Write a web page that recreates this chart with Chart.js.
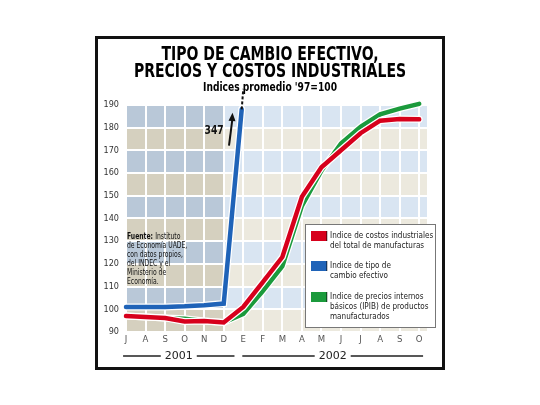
<!DOCTYPE html>
<html>
<head>
<meta charset="utf-8">
<script src="https://cdn.jsdelivr.net/npm/chart.js@4.4.0/dist/chart.umd.min.js"></script>
<style>
  html, body { margin: 0; padding: 0; background: #fff; }
  #wrap { width: 540px; height: 405px; }
</style>
</head>
<body>
<div id="wrap"><canvas id="chart" width="540" height="405"></canvas></div>
<script>
// chart data
const months = ['J', 'A', 'S', 'O', 'N', 'D', 'E', 'F', 'M', 'A', 'M', 'J', 'J', 'A', 'S', 'O'];
const costos = [97, 96.6, 96.2, 94.6, 94.8, 94.2, 101, 112, 123, 149.5, 162.5, 170, 177.5, 183, 183.8, 183.6];
const precios = [97, 96.6, 96.2, 95.8, 94.8, 94.2, 98, 108, 119, 145.5, 161, 173, 180.3, 185.8, 188.3, 190.4];
const cambioX = [0, 1, 2, 3, 4, 5, 5.92];
const cambio = [101, 101, 101, 101.3, 101.8, 102.5, 188];
const cambioOffX = [5.92, 6.0];
const cambioOff = [188, 197];
const cambioPeak = 347;
const yTicks = [90, 100, 110, 120, 130, 140, 150, 160, 170, 180, 190];
const years = ['2001', '2002'];
const yearFrom = [-0.15, 5.95];
const yearTo = [5.55, 15.2];
const darkUntil = 5; // 2001 cells drawn darker

const legendLines = [
  ['Indice de costos industriales', 'del total de manufacturas'],
  ['Indice de tipo de', 'cambio efectivo'],
  ['Indice de precios internos', 'básicos (IPIB) de productos', 'manufacturados']
];
const noteLines = ['Fuente: Instituto', 'de Economía UADE,', 'con datos propios,', 'del INDEC y el', 'Ministerio de', 'Economía.'];

const RED = '#d7001c';
const BLUE = '#1f63b8';
const GREEN = '#1b9a3c';
const NARROW = "'DejaVu Sans Condensed', 'Liberation Sans', sans-serif";
const SQUEEZE = 0.78;

// draw text squeezed horizontally, like the condensed face of the original
function narrowText(ctx, text, x, y, sx) {
  ctx.save();
  ctx.translate(x, y);
  ctx.scale(sx, 1);
  ctx.fillText(text, 0, 0);
  ctx.restore();
  return ctx.measureText(text).width * sx;
}

// squeeze title + subtitle and center them on the page rather than the plot
const narrowTitles = {
  id: 'narrowTitles',
  afterLayout(chart) {
    chart.boxes.forEach(b => {
      if (b._narrowed || !b.options || b.options.text === undefined) return;
      const draw = b.draw.bind(b);
      b.draw = function (area) {
        const ctx = chart.ctx, cx = (b.left + b.right) / 2;
        ctx.save();
        ctx.translate(chart.width / 2, 0);
        ctx.scale(SQUEEZE, 1);
        ctx.translate(-cx, 0);
        draw(area);
        ctx.restore();
      };
      b._narrowed = true;
    });
  }
};

const backdrop = {
  id: 'backdrop',
  beforeDraw(chart) {
    const { ctx, chartArea: a, scales: { x, y } } = chart;
    ctx.save();
    ctx.fillStyle = '#fff';
    ctx.fillRect(0, 0, chart.width, chart.height);
    const split = x.getPixelForValue(darkUntil);
    for (let i = 0; i < yTicks.length - 1; i++) {
      const top = y.getPixelForValue(yTicks[i + 1]);
      const bot = y.getPixelForValue(yTicks[i]);
      const blue = i % 2 === 1;
      ctx.fillStyle = blue ? '#b9c8d8' : '#d5d0bf';
      ctx.fillRect(a.left, top, split - a.left, bot - top);
      ctx.fillStyle = blue ? '#d9e5f2' : '#ece9de';
      ctx.fillRect(split, top, a.right - split, bot - top);
    }
    ctx.strokeStyle = '#111';
    ctx.lineWidth = 3;
    ctx.strokeRect(96.5, 37.5, 347, 331);
    ctx.restore();
  }
};

const outline = {
  id: 'outline',
  beforeDatasetDraw(chart, args) {
    const el = args.meta.dataset;
    if (!el || chart.data.datasets[args.index].borderDash) return;
    const saved = el.options;
    el.options = Object.assign({}, saved, { borderColor: '#fff', borderWidth: saved.borderWidth + 2.5 });
    el.draw(chart.ctx, chart.chartArea);
    el.options = saved;
  }
};

const extras = {
  id: 'extras',
  afterDraw(chart) {
    const { ctx, scales: { x, y } } = chart;
    ctx.save();

    // 347 marker
    ctx.fillStyle = '#111';
    ctx.font = 'bold 12px ' + NARROW;
    ctx.textAlign = 'right';
    ctx.textBaseline = 'middle';
    narrowText(ctx, String(cambioPeak), x.getPixelForValue(5.0), y.getPixelForValue(178.5), 0.85);
    const ax0 = x.getPixelForValue(5.27), ay0 = y.getPixelForValue(172);
    const ax1 = x.getPixelForValue(5.45), ay1 = y.getPixelForValue(186.5);
    ctx.strokeStyle = '#111';
    ctx.lineWidth = 2;
    ctx.beginPath();
    ctx.moveTo(ax0, ay0);
    ctx.lineTo(ax1, ay1 + 5);
    ctx.stroke();
    ctx.beginPath();
    ctx.moveTo(ax1, ay1);
    ctx.lineTo(ax1 - 4, ay1 + 8);
    ctx.lineTo(ax1 + 3, ay1 + 8.5);
    ctx.closePath();
    ctx.fill();

    // source note
    ctx.textAlign = 'left';
    noteLines.forEach((line, i) => {
      const ly = 237 + i * 8.9;
      if (i === 0) {
        ctx.font = 'bold 9px ' + NARROW;
        const w = narrowText(ctx, 'Fuente: ', 127, ly, 0.75);
        ctx.font = '9px ' + NARROW;
        narrowText(ctx, line.replace('Fuente: ', ''), 127 + w, ly, 0.75);
      } else {
        ctx.font = '9px ' + NARROW;
        narrowText(ctx, line, 127, ly, 0.75);
      }
    });

    // legend
    const lx = 305, ly = 224, lw = 130, lh = 103;
    ctx.fillStyle = '#fff';
    ctx.fillRect(lx, ly, lw, lh);
    ctx.strokeStyle = '#777';
    ctx.lineWidth = 1;
    ctx.strokeRect(lx + 0.5, ly + 0.5, lw, lh);
    const colors = [RED, BLUE, GREEN];
    const starts = [236, 266, 297];
    legendLines.forEach((lines, i) => {
      ctx.fillStyle = colors[i];
      ctx.fillRect(lx + 6, starts[i] - 5, 16, 10);
      ctx.fillStyle = 'rgba(0,0,0,0.45)';
      ctx.fillRect(lx + 21, starts[i] - 5, 1.5, 10);
      ctx.fillStyle = '#222';
      ctx.font = '9.5px ' + NARROW;
      lines.forEach((t, j) => narrowText(ctx, t, lx + 25, starts[i] + j * 10, 0.85));
    });

    // year brackets
    ctx.font = '11px DejaVu Sans';
    ctx.textAlign = 'center';
    ctx.fillStyle = '#222';
    ctx.strokeStyle = '#222';
    ctx.lineWidth = 1.5;
    const yy = 356;
    years.forEach((yr, i) => {
      const x0 = x.getPixelForValue(yearFrom[i]);
      const x1 = x.getPixelForValue(yearTo[i]);
      const cx = (x0 + x1) / 2;
      const half = ctx.measureText(yr).width / 2 + 4;
      ctx.fillText(yr, cx, yy);
      ctx.beginPath();
      ctx.moveTo(x0, yy); ctx.lineTo(cx - half, yy);
      ctx.moveTo(cx + half, yy); ctx.lineTo(x1, yy);
      ctx.stroke();
    });
    ctx.restore();
  }
};

const pts = (xs, ys) => ys.map((v, i) => ({ x: xs[i], y: v }));
const idx = months.map((m, i) => i);

new Chart(document.getElementById('chart'), {
  type: 'line',
  data: {
    datasets: [
      {
        label: 'Indice de tipo de cambio efectivo',
        data: pts(cambioX, cambio),
        borderColor: BLUE, borderWidth: 4.5, order: 1
      },
      {
        label: 'Indice de tipo de cambio efectivo (fuera de escala)',
        data: pts(cambioOffX, cambioOff),
        borderColor: '#111', borderWidth: 2, borderDash: [3, 2], borderCapStyle: 'butt', order: 0
      },
      {
        label: 'Indice de costos industriales del total de manufacturas',
        data: pts(idx, costos),
        borderColor: RED, borderWidth: 4.5, order: 2
      },
      {
        label: 'Indice de precios internos básicos (IPIB) de productos manufacturados',
        data: pts(idx, precios),
        borderColor: GREEN, borderWidth: 4.5, order: 3
      }
    ]
  },
  options: {
    responsive: false,
    animation: false,
    clip: false,
    layout: { padding: { top: 0, left: 0, right: 113, bottom: 0 } },
    elements: {
      point: { radius: 0 },
      line: { tension: 0, borderCapStyle: 'round', borderJoinStyle: 'miter' }
    },
    plugins: {
      legend: { display: false },
      tooltip: { enabled: false },
      title: {
        display: true,
        text: ['TIPO DE CAMBIO EFECTIVO,', 'PRECIOS Y COSTOS INDUSTRIALES'],
        color: '#000',
        font: { family: NARROW, size: 20, weight: 'bold', lineHeight: 0.85 },
        padding: { top: 46.5, bottom: 0 }
      },
      subtitle: {
        display: true,
        text: "Indices promedio '97=100",
        color: '#000',
        font: { family: NARROW, size: 13, weight: 'bold', lineHeight: 1.1 },
        padding: { top: 0, bottom: 10 }
      }
    },
    scales: {
      x: {
        type: 'linear',
        min: 0,
        max: 15.4,
        afterFit: s => { s.height = 73; },
        afterBuildTicks: s => { s.ticks = idx.map(v => ({ value: v })); },
        ticks: {
          stepSize: 1,
          padding: 2,
          maxRotation: 0,
          autoSkip: false,
          color: '#555',
          font: { family: NARROW, size: 9.5 },
          callback: v => months[v]
        },
        grid: { color: '#fff', lineWidth: 2, drawTicks: false },
        border: { display: false }
      },
      y: {
        min: 90,
        max: 190,
        afterFit: s => { s.width = 126; },
        ticks: {
          stepSize: 10,
          padding: 7,
          color: '#333',
          font: { family: NARROW, size: 9 }
        },
        grid: { color: '#fff', lineWidth: 2, drawTicks: false },
        border: { display: false }
      }
    }
  },
  plugins: [narrowTitles, backdrop, outline, extras]
});
</script>
</body>
</html>
